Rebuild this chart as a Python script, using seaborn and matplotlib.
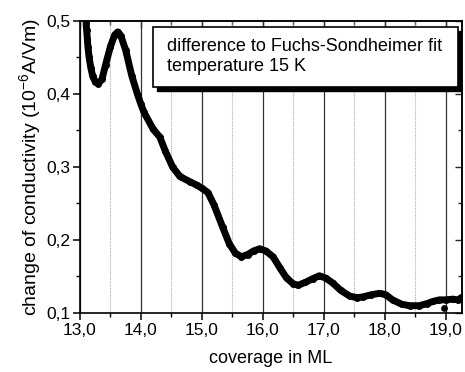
import matplotlib
matplotlib.use("Agg")
import matplotlib.pyplot as plt
import seaborn as sns
import pandas as pd
from matplotlib.ticker import MultipleLocator, FixedLocator

coverage = [13.10, 13.11, 13.12, 13.13, 13.15, 13.18, 13.21, 13.25, 13.30, 13.36, 13.42,
            13.50, 13.57, 13.62, 13.67, 13.75, 13.85, 13.95, 14.00, 14.05, 14.20, 14.31,
            14.40, 14.52, 14.64, 14.80, 14.92, 15.00, 15.10, 15.20, 15.34, 15.45, 15.55,
            15.65, 15.75, 15.85, 15.95, 16.05, 16.17, 16.28, 16.39, 16.50, 16.58, 16.70,
            16.82, 16.93, 17.03, 17.15, 17.28, 17.43, 17.55, 17.64, 17.78, 17.92, 18.02,
            18.13, 18.28, 18.41, 18.57, 18.70, 18.80, 18.90, 19.00, 19.12, 19.20, 19.28]
conductivity = [0.497, 0.487, 0.476, 0.465, 0.450, 0.435, 0.424, 0.417, 0.414, 0.420, 0.440,
                0.465, 0.481, 0.485, 0.480, 0.460, 0.425, 0.398, 0.386, 0.375, 0.352, 0.341,
                0.322, 0.300, 0.287, 0.280, 0.275, 0.271, 0.265, 0.248, 0.218, 0.195, 0.182,
                0.177, 0.180, 0.185, 0.188, 0.185, 0.177, 0.162, 0.148, 0.140, 0.138, 0.142,
                0.147, 0.151, 0.148, 0.141, 0.131, 0.123, 0.121, 0.122, 0.125, 0.127, 0.125,
                0.118, 0.112, 0.110, 0.110, 0.113, 0.116, 0.118, 0.118, 0.119, 0.118, 0.122]
outlier_x = [18.97]
outlier_y = [0.107]

x_ticks = [13, 14, 15, 16, 17, 18, 19]
x_labels = ["13,0", "14,0", "15,0", "16,0", "17,0", "18,0", "19,0"]
y_ticks = [0.1, 0.2, 0.3, 0.4, 0.5]
y_labels = ["0,1", "0,2", "0,3", "0,4", "0,5"]
box_text = "difference to Fuchs-Sondheimer fit\ntemperature 15 K"

sns.set_theme(style="white")
plt.rcParams['font.family'] = ['Liberation Sans', 'DejaVu Sans']
plt.rcParams['mathtext.fontset'] = 'custom'
plt.rcParams['mathtext.rm'] = 'Liberation Sans'
plt.rcParams['mathtext.it'] = 'Liberation Sans:italic'
plt.rcParams['mathtext.bf'] = 'Liberation Sans:bold'

fig = plt.figure(figsize=(4.65, 3.72), dpi=100)
ax = fig.add_axes([0.172, 0.1586, 0.8215, 0.785])

df = pd.DataFrame({"x": coverage, "y": conductivity})
sns.lineplot(data=df, x="x", y="y", ax=ax, color="black", lw=5, marker="o",
             markersize=5, markeredgewidth=0, sort=False, zorder=5)
sns.scatterplot(x=outlier_x, y=outlier_y, ax=ax, color="black", s=24, linewidth=0, zorder=5)

ax.set_xlim(13.0, 19.27)
ax.set_ylim(0.1, 0.5)
ax.xaxis.set_major_locator(FixedLocator(x_ticks))
ax.set_xticklabels(x_labels)
ax.xaxis.set_minor_locator(MultipleLocator(0.5))
ax.yaxis.set_major_locator(FixedLocator(y_ticks))
ax.set_yticklabels(y_labels)
ax.yaxis.set_minor_locator(MultipleLocator(0.05))

ax.grid(False)
ax.grid(True, axis="x", which="major", color="#333333", lw=0.9, ls="-", zorder=0)
ax.grid(True, axis="x", which="minor", color="#aaaaaa", lw=0.8, ls=(0, (1, 1)), zorder=0)

ax.tick_params(axis="both", which="major", direction="out", length=5, width=1.1,
               color="black", labelsize=12.5, labelcolor="black", pad=2,
               bottom=True, left=True)
ax.tick_params(axis="both", which="minor", direction="out", length=3, width=1.0,
               color="black", bottom=True, left=True)

for s in ax.spines.values():
    s.set_color("black")
    s.set_linewidth(1.2)

top = ax.secondary_xaxis("top")
top.xaxis.set_major_locator(FixedLocator(x_ticks))
top.xaxis.set_minor_locator(MultipleLocator(0.5))
top.tick_params(axis="x", which="major", direction="in", length=5, width=1.0, labeltop=False, top=True)
top.tick_params(axis="x", which="minor", direction="in", length=3, width=1.0, top=True)
top.spines["top"].set_linewidth(1.2)

right = ax.secondary_yaxis("right")
right.yaxis.set_major_locator(FixedLocator(y_ticks))
right.yaxis.set_minor_locator(MultipleLocator(0.05))
right.tick_params(axis="y", which="major", direction="in", length=5, width=1.0, labelright=False, right=True)
right.tick_params(axis="y", which="minor", direction="in", length=3, width=1.0, right=True)
right.spines["right"].set_linewidth(1.2)

ax.set_xlabel("coverage in ML", fontsize=13, color="black", labelpad=9)
ax.set_ylabel("change of conductivity (10$^{-6}$A/Vm)", fontsize=14, color="black", labelpad=2)

# text box with shadow
bx0, by0, bw, bh = 0.192, 0.775, 0.797, 0.205
shadow = plt.Rectangle((bx0 + 0.010, by0 - 0.015), bw, bh, transform=ax.transAxes,
                       facecolor="black", edgecolor="black", zorder=8)
box = plt.Rectangle((bx0, by0), bw, bh, transform=ax.transAxes,
                    facecolor="white", edgecolor="black", lw=1.2, zorder=9)
ax.add_patch(shadow)
ax.add_patch(box)
ax.text(bx0 + 0.036, by0 + bh / 2, box_text, transform=ax.transAxes, fontsize=13,
        va="center", ha="left", linespacing=1.2, zorder=10, color="black")

fig.savefig("out.png", dpi=100)
